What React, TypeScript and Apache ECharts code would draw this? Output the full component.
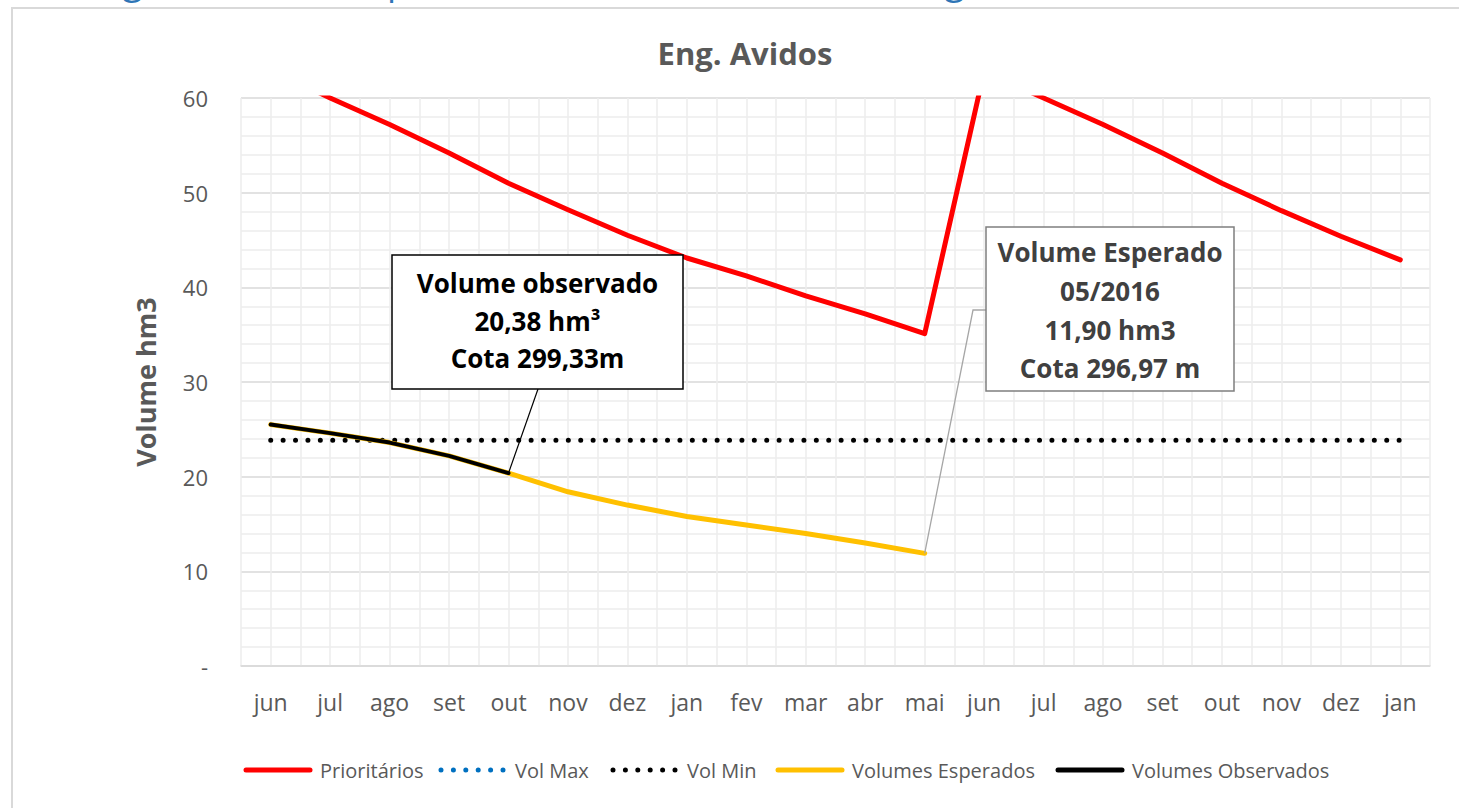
import React, { useEffect, useRef } from "react";
import * as echarts from "echarts";

const categories = ["jun", "jul", "ago", "set", "out", "nov", "dez", "jan", "fev", "mar", "abr", "mai", "jun", "jul", "ago", "set", "out", "nov", "dez", "jan"];
const prioritarios = [63.0, 60.0, 57.2, 54.2, 51.0, 48.2, 45.5, 43.1, 41.2, 39.1, 37.2, 35.1, 62.8, 60.0, 57.2, 54.2, 51.0, 48.1, 45.4, 42.9];
const volMax = [70, 70, 70, 70, 70, 70, 70, 70, 70, 70, 70, 70, 70, 70, 70, 70, 70, 70, 70, 70];
const volMin = [23.85, 23.85, 23.85, 23.85, 23.85, 23.85, 23.85, 23.85, 23.85, 23.85, 23.85, 23.85, 23.85, 23.85, 23.85, 23.85, 23.85, 23.85, 23.85, 23.85];
const volumesEsperados = [25.5, 24.6, 23.6, 22.2, 20.38, 18.4, 17.0, 15.8, 14.9, 14.0, 13.0, 11.9, null, null, null, null, null, null, null, null];
const volumesObservados = [25.5, 24.6, 23.6, 22.2, 20.38, null, null, null, null, null, null, null, null, null, null, null, null, null, null, null];
const yTicks = { min: 0, max: 60, interval: 10 };

const seriesNames = ["Prioritários", "Vol Max", "Vol Min", "Volumes Esperados", "Volumes Observados"];
const seriesColors = ["#ff0000", "#0070c0", "#000000", "#ffc000", "#000000"];
const seriesDotted = [false, true, true, false, false];

const obsBoxLines = ["Volume observado", "20,38 hm³", "Cota 299,33m"];
const espBoxLines = ["Volume Esperado", "05/2016", "11,90 hm3", "Cota 296,97 m"];

const FONT = "'Open Sans', 'Noto Sans', sans-serif";
const GRAY = "#595959";
const DOT = [0, 12.4];

export default function App() {
  const ref = useRef<HTMLDivElement>(null);
  useEffect(() => {
    if (!ref.current) return;
    const chart = echarts.init(ref.current, null, { renderer: "svg" });
    const seriesData = [prioritarios, volMax, volMin, volumesEsperados, volumesObservados];
    const widths = [5, 5, 5, 5, 4];
    chart.setOption({
      animation: false,
      textStyle: { fontFamily: FONT },
      grid: { left: 241, right: 29, top: 98, bottom: 142, containLabel: false },
      xAxis: [
        {
          type: "category",
          data: categories,
          boundaryGap: true,
          axisLine: { show: true, lineStyle: { color: "#d9d9d9", width: 1.5 } },
          axisTick: { show: false },
          axisLabel: { color: GRAY, fontSize: 23, margin: 24, interval: 0 },
          splitLine: { show: false },
        },
        {
          type: "value",
          min: 0,
          max: 40,
          interval: 1,
          position: "top",
          axisLine: { show: false },
          axisTick: { show: false },
          axisLabel: { show: false },
          splitLine: { show: true, lineStyle: { color: "#ededed", width: 1.5 } },
        },
      ],
      yAxis: {
        type: "value",
        min: yTicks.min,
        max: yTicks.max,
        interval: yTicks.interval,
        name: "Volume hm3",
        nameLocation: "middle",
        nameRotate: 90,
        nameGap: 82,
        nameTextStyle: { color: GRAY, fontSize: 27, fontWeight: "bold", fontFamily: FONT },
        axisLine: { show: false },
        axisTick: { show: false },
        axisLabel: {
          color: GRAY,
          fontSize: 22,
          margin: 33,
          formatter: (v: number) => (v === 0 ? "-" : String(v)),
        },
        splitLine: { show: true, lineStyle: { color: "#d9d9d9", width: 1.5 } },
        minorTick: { show: false, splitNumber: 5 },
        minorSplitLine: { show: true, lineStyle: { color: "#ededed", width: 1.5 } },
      },
      series: seriesNames.map((name, i) => ({
        name,
        type: "line",
        data: seriesData[i],
        symbol: "none",
        showSymbol: false,
        clip: true,
        color: seriesColors[i],
        lineStyle: seriesDotted[i]
          ? { color: seriesColors[i], width: 5, type: DOT, cap: "round" }
          : { color: seriesColors[i], width: widths[i], cap: "round", join: "round" },
        emphasis: { disabled: true },
      })),
    });

    const pObs = chart.convertToPixel({ xAxisIndex: 0, yAxisIndex: 0 }, [4, volumesObservados[4] as number]) as number[];
    const pEsp = chart.convertToPixel({ xAxisIndex: 0, yAxisIndex: 0 }, [11, volumesEsperados[11] as number]) as number[];

    const box1 = { x: 392, y: 255, w: 291, h: 134 };
    const box2 = { x: 986, y: 227, w: 248, h: 164 };

    const legendY = 770;
    const legendIconX = [243, 438, 610, 775, 1055];
    const legendIconW = 70;

    const legendGraphics: any[] = [];
    seriesNames.forEach((name, i) => {
      const x0 = legendIconX[i];
      legendGraphics.push({
        type: "line",
        shape: { x1: x0 + 3, y1: legendY, x2: x0 + legendIconW - 3, y2: legendY },
        style: seriesDotted[i]
          ? { stroke: seriesColors[i], lineWidth: 5, lineDash: [0, 12.4], lineCap: "round" }
          : { stroke: seriesColors[i], lineWidth: 5, lineCap: "round" },
        silent: true,
      });
      legendGraphics.push({
        type: "text",
        x: x0 + legendIconW + 7,
        y: legendY,
        style: {
          text: name,
          fill: GRAY,
          font: `20px ${FONT}`,
          textAlign: "left",
          textVerticalAlign: "middle",
        },
        silent: true,
      });
    });

    chart.setOption({
      graphic: [
        {
          type: "rect",
          shape: { x: 12, y: 8, width: 1470, height: 830 },
          style: { fill: "none", stroke: "#d9d9d9", lineWidth: 2 },
          silent: true,
          z: 0,
        },
        {
          type: "text",
          x: 16,
          y: -2,
          style: {
            text: "Curva guia: Volume esperado x Volume Observado – Eng. Avidos",
            fill: "#2e75b6",
            font: `36px ${FONT}`,
            textAlign: "left",
            textVerticalAlign: "bottom",
          },
          silent: true,
        },
        {
          type: "text",
          x: 745,
          y: 53,
          style: {
            text: "Eng. Avidos",
            fill: GRAY,
            font: `bold 31px ${FONT}`,
            textAlign: "center",
            textVerticalAlign: "middle",
          },
          silent: true,
        },
        ...legendGraphics,
        {
          type: "line",
          shape: { x1: 538, y1: box1.y + box1.h, x2: pObs[0], y2: pObs[1] },
          style: { stroke: "#000000", lineWidth: 1.2 },
          silent: true,
          z: 10,
        },
        {
          type: "rect",
          shape: { x: box1.x, y: box1.y, width: box1.w, height: box1.h },
          style: { fill: "#ffffff", stroke: "#000000", lineWidth: 1.5 },
          silent: true,
          z: 10,
        },
        ...obsBoxLines.map((t, i) => ({
          type: "text",
          x: box1.x + box1.w / 2,
          y: box1.y + 28 + i * 37.5,
          style: {
            text: t,
            fill: "#000000",
            font: `bold 26px ${FONT}`,
            textAlign: "center",
            textVerticalAlign: "middle",
          },
          silent: true,
          z: 11,
        })),
        {
          type: "polyline",
          shape: { points: [[pEsp[0], pEsp[1]], [973, 310], [box2.x, 310]] },
          style: { stroke: "#a6a6a6", lineWidth: 1.3, fill: "none" },
          silent: true,
          z: 10,
        },
        {
          type: "rect",
          shape: { x: box2.x, y: box2.y, width: box2.w, height: box2.h },
          style: { fill: "#ffffff", stroke: "#7f7f7f", lineWidth: 1.5 },
          silent: true,
          z: 10,
        },
        ...espBoxLines.map((t, i) => ({
          type: "text",
          x: box2.x + box2.w / 2,
          y: box2.y + 25 + i * 38.8,
          style: {
            text: t,
            fill: "#404040",
            font: `bold 26px ${FONT}`,
            textAlign: "center",
            textVerticalAlign: "middle",
          },
          silent: true,
          z: 11,
        })),
      ],
    });

    return () => chart.dispose();
  }, []);
  return (
    <div
      ref={ref}
      style={{ position: "absolute", left: 0, top: 0, width: 1459, height: 808, background: "#ffffff" }}
    />
  );
}
